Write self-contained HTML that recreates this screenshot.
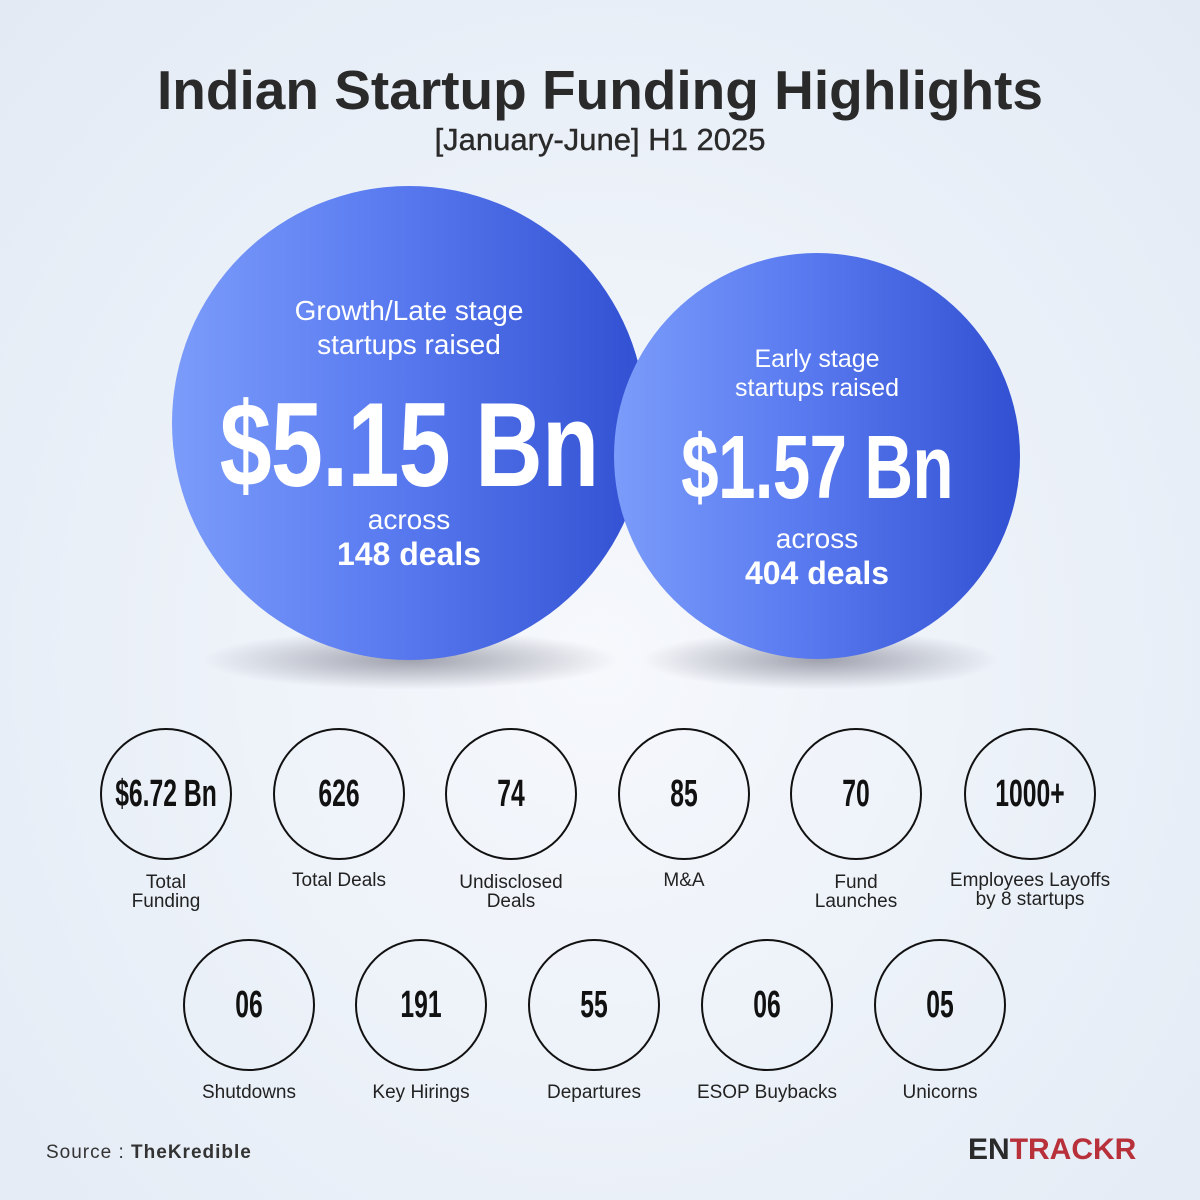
<!DOCTYPE html>
<html><head><meta charset="utf-8"><style>
body{margin:0;width:1200px;height:1200px;overflow:hidden;background:radial-gradient(ellipse at 50% 55%,#f6f8fc 0%,#eaf0f8 60%,#e3eaf4 100%);font-family:"Liberation Sans",sans-serif;position:relative;color:#222}
.a{position:absolute;text-align:center}
.big{border-radius:50%;background:linear-gradient(90deg,#7b9cfa 0%,#5a7bf0 45%,#3150d2 100%);color:#fff}
.sh{position:absolute;border-radius:50%;background:radial-gradient(ellipse,rgba(60,60,80,.45),rgba(60,60,80,0) 70%)}
.num{position:absolute;left:-40px;right:-40px;font-weight:bold;white-space:nowrap;letter-spacing:-1px}
.c{position:absolute;width:132px;height:132px;border:2px solid #111;border-radius:50%;box-sizing:border-box}
.c span{position:absolute;left:-30px;right:-30px;top:43px;font-size:38px;font-weight:bold;transform:scaleX(.65);text-align:center;color:#111}
.l{position:absolute;width:200px;text-align:center;font-size:19px;line-height:19px;color:#222}
</style></head><body>
<div class="a" style="left:0;right:0;top:58px;font-size:55px;font-weight:bold;color:#2a2a2a">Indian Startup Funding Highlights</div>
<div class="a" style="left:0;right:0;top:122px;font-size:31px;color:#2a2a2a;-webkit-text-stroke:0.4px #2a2a2a">[January-June] H1 2025</div>
<div class="sh" style="left:200px;top:630px;width:420px;height:60px"></div>
<div class="sh" style="left:640px;top:630px;width:360px;height:60px"></div>
<div class="a big" style="left:172px;top:186px;width:474px;height:474px">
<div style="position:absolute;left:0;right:0;top:108px;font-size:28px;line-height:34px">Growth/Late stage<br>startups raised</div>
<div class="num" style="top:190px;font-size:120px;transform:scaleX(.78)">$5.15 Bn</div>
<div style="position:absolute;left:0;right:0;top:318px;font-size:28px">across</div>
<div style="position:absolute;left:0;right:0;top:350px;font-size:32px;font-weight:bold">148 deals</div>
</div>
<div class="a big" style="left:614px;top:253px;width:406px;height:406px">
<div style="position:absolute;left:0;right:0;top:92px;font-size:25px;line-height:29px">Early stage<br>startups raised</div>
<div class="num" style="top:164px;font-size:90px;transform:scaleX(.75)">$1.57 Bn</div>
<div style="position:absolute;left:0;right:0;top:270px;font-size:28px">across</div>
<div style="position:absolute;left:0;right:0;top:302px;font-size:32px;font-weight:bold">404 deals</div>
</div>
<div class="c" style="left:100px;top:728px"><span>$6.72 Bn</span></div>
<div class="c" style="left:273px;top:728px"><span>626</span></div>
<div class="c" style="left:445px;top:728px"><span>74</span></div>
<div class="c" style="left:618px;top:728px"><span>85</span></div>
<div class="c" style="left:790px;top:728px"><span>70</span></div>
<div class="c" style="left:964px;top:728px"><span>1000+</span></div>
<div class="l" style="left:66px;top:873px">Total<br>Funding</div>
<div class="l" style="left:239px;top:871px">Total Deals</div>
<div class="l" style="left:411px;top:873px">Undisclosed<br>Deals</div>
<div class="l" style="left:584px;top:871px">M&amp;A</div>
<div class="l" style="left:756px;top:873px">Fund<br>Launches</div>
<div class="l" style="left:920px;top:871px;width:220px">Employees Layoffs<br>by 8 startups</div>
<div class="c" style="left:183px;top:939px"><span>06</span></div>
<div class="c" style="left:355px;top:939px"><span>191</span></div>
<div class="c" style="left:528px;top:939px"><span>55</span></div>
<div class="c" style="left:701px;top:939px"><span>06</span></div>
<div class="c" style="left:874px;top:939px"><span>05</span></div>
<div class="l" style="left:149px;top:1083px">Shutdowns</div>
<div class="l" style="left:321px;top:1083px">Key Hirings</div>
<div class="l" style="left:494px;top:1083px">Departures</div>
<div class="l" style="left:667px;top:1083px">ESOP Buybacks</div>
<div class="l" style="left:840px;top:1083px">Unicorns</div>
<div style="position:absolute;left:46px;top:1142px;font-size:19px;letter-spacing:1px;color:#333">Source : <b>TheKredible</b></div>
<div style="position:absolute;left:968px;top:1133px;font-size:30px;font-weight:bold;letter-spacing:0px"><span style="color:#2a2a2a">EN</span><span style="color:#b8303a">TRACKR</span></div>
</body></html>
